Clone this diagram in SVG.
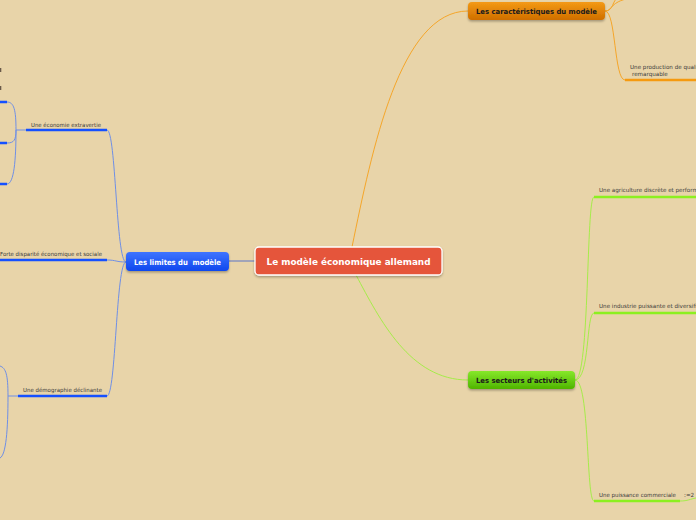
<svg xmlns="http://www.w3.org/2000/svg" width="696" height="520" viewBox="0 0 696 520">
<defs>
<linearGradient id="gBlue" x1="0" y1="0" x2="0" y2="1"><stop offset="0" stop-color="#3f74ff"/><stop offset="1" stop-color="#0f47ee"/></linearGradient>
<linearGradient id="gOrange" x1="0" y1="0" x2="0" y2="1"><stop offset="0" stop-color="#f49a14"/><stop offset="1" stop-color="#cf6e00"/></linearGradient>
<linearGradient id="gGreen" x1="0" y1="0" x2="0" y2="1"><stop offset="0" stop-color="#86e82a"/><stop offset="1" stop-color="#4fb400"/></linearGradient>
<filter id="sh" x="-10%" y="-30%" width="120%" height="170%"><feDropShadow dx="0" dy="1.5" stdDeviation="1.2" flood-color="#000" flood-opacity="0.3"/></filter>
<style>
.lbl{font-family:"DejaVu Sans",Verdana,sans-serif;font-size:5.6px;fill:#3a3a3a}
.nt{font-family:"DejaVu Sans",Verdana,sans-serif;font-weight:bold;text-anchor:middle}
.cb{fill:none;stroke:#6f8fe6;stroke-width:1}
.ub{fill:none;stroke:#1550ff;stroke-width:2.5}
.co{fill:none;stroke:#f5a62a;stroke-width:1}
.uo{fill:none;stroke:#f59a10;stroke-width:2.5}
.cg{fill:none;stroke:#a6ec4a;stroke-width:1}
.ug{fill:none;stroke:#8cf020;stroke-width:2.5}
</style>
</defs>
<rect width="696" height="520" fill="#e8d4a9"/>
<g id="connectors">
<path d="M255,261 L229,261" stroke="#5a75c8" stroke-width="1" fill="none"/>
<path class="co" d="M352,247 C372,150 400,11 468,11" stroke-width="1.6"/>
<path class="cg" d="M356,275 C380,320 410,380 468,380" stroke-width="1.3"/>
<path class="cb" d="M126,262 C116,262 116,130 107,130"/>
<path class="cb" d="M126,262 C116,262 116,260 107,260"/>
<path class="cb" d="M126,262 C116,262 116,396 107,396"/>
<path class="cb" d="M26,130 L16,130"/>
<path class="cb" d="M16,130 C16,110 14,102 7,102"/>
<path class="cb" d="M16,130 C16,140 14,143 7,143"/>
<path class="cb" d="M16,130 C16,160 14,184 7,184"/>
<path class="cb" d="M18,396 L8,396"/>
<path class="cb" d="M8,396 C8,375 6,368 0,366"/>
<path class="cb" d="M8,396 C8,430 6,455 0,458"/>
<path class="co" d="M605,11 C614,11 612,0 618,-2"/>
<path class="co" d="M605,11 C612,11 610,3 626,-1"/>
<path class="co" d="M605,11 C616,11 614,80 625,80"/>
<path class="cg" d="M575,380 C590,380 586,197 594,197"/>
<path class="cg" d="M575,380 C590,380 586,313 594,313"/>
<path class="cg" d="M575,380 C590,380 586,501 594,501"/>
<path class="cg" d="M680,501 C688,501 690,499 696,498"/>
<path class="ub" d="M26,130 L107,130"/>
<path class="ub" d="M0,260 L107,260"/>
<path class="ub" d="M18,396 L107,396"/>
<path class="ub" d="M0,102 L7,102"/>
<path class="ub" d="M0,143 L7,143"/>
<path class="ub" d="M0,184 L7,184"/>
<path class="uo" d="M625,80 L696,80"/>
<path class="ug" d="M594,197 L696,197"/>
<path class="ug" d="M594,313 L696,313"/>
<path class="ug" d="M594,501 L680,501"/>
</g>
<g id="center">
<rect x="255" y="247" width="187" height="28" rx="4" fill="#e5553b" stroke="#fff" stroke-width="1.3" filter="url(#sh)"/>
<text class="nt" x="348.5" y="264.5" font-size="9.5" fill="#fff" textLength="164" lengthAdjust="spacingAndGlyphs">Le modèle économique allemand</text>
</g>
<g id="limites">
<rect x="126" y="252" width="103" height="19" rx="4" fill="url(#gBlue)" filter="url(#sh)"/>
<text class="nt" x="177.5" y="264.5" font-size="7.6" fill="#fff" textLength="87" lengthAdjust="spacingAndGlyphs" xml:space="preserve">Les limites du  modèle</text>
</g>
<g id="caracteristiques">
<rect x="468" y="2" width="137" height="18" rx="4" fill="url(#gOrange)" filter="url(#sh)"/>
<text class="nt" x="536.5" y="14" font-size="7.2" fill="#1a1a1a" textLength="121" lengthAdjust="spacingAndGlyphs">Les caractéristiques du modèle</text>
</g>
<g id="secteurs">
<rect x="468" y="371" width="107" height="18" rx="4" fill="url(#gGreen)" filter="url(#sh)"/>
<text class="nt" x="521.5" y="383" font-size="7.2" fill="#1a1a1a" textLength="91" lengthAdjust="spacingAndGlyphs">Les secteurs d'activités</text>
</g>
<g id="extravertie"><text class="lbl" x="31" y="126.5" textLength="70" lengthAdjust="spacingAndGlyphs">Une économie extravertie</text></g>
<g id="disparite"><text class="lbl" x="0" y="256" textLength="102" lengthAdjust="spacingAndGlyphs">Forte disparité économique et sociale</text></g>
<g id="demographie"><text class="lbl" x="23" y="392" textLength="79" lengthAdjust="spacingAndGlyphs">Une démographie déclinante</text></g>
<g id="sub-left">
<rect x="0" y="68" width="1.3" height="4" fill="#6a5a4a"/>
<rect x="0" y="86" width="1.3" height="4" fill="#6a5a4a"/>
</g>
<g id="production"><text class="lbl" x="630" y="69">Une production de quali</text><text class="lbl" x="632" y="76">remarquable</text></g>
<g id="agriculture"><text class="lbl" x="599" y="192">Une agriculture discrète et perform</text></g>
<g id="industrie"><text class="lbl" x="599" y="308">Une industrie puissante et diversifi</text></g>
<g id="commerciale"><text class="lbl" x="599" y="497" textLength="77" lengthAdjust="spacingAndGlyphs">Une puissance commerciale</text><text class="lbl" x="684" y="497" font-size="7" fill="#222">:=2</text></g>
</svg>
